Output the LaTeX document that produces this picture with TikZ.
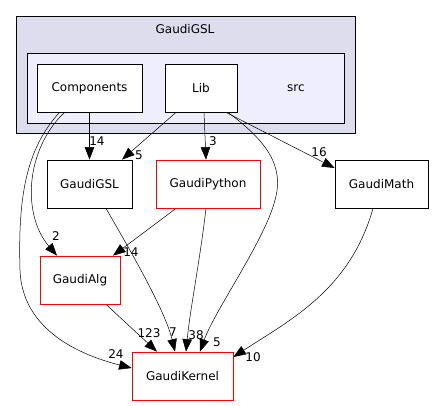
\documentclass[tikz,border=0pt]{standalone}
\usepackage{fontspec}
\setmainfont{DejaVu Sans}
\usetikzlibrary{arrows.meta}
\definecolor{outerfill}{HTML}{DDDDEE}
\definecolor{innerfill}{HTML}{EEEEFF}
\begin{document}
\begin{tikzpicture}[x=1pt,y=-1pt,
  box/.style={draw=black,fill=white,line width=0.8pt,inner sep=0pt,font=\fontsize{12}{14}\selectfont},
  redbox/.style={box,draw=red},
  lbl/.style={font=\fontsize{12}{14}\selectfont,inner sep=0pt},
  dep/.style={draw=black,line width=0.5pt,-{Triangle[length=12.5pt,width=9.5pt]}}]
\useasboundingbox (0,0) rectangle (433,405);
% clusters
\node[draw=black,fill=outerfill,line width=0.8pt,minimum width=339pt,minimum height=117pt,inner sep=0pt] (outer) at (185.5,74.5) {};
\node[lbl] (outerlbl) at (185,29) {GaudiGSL};
\node[draw=black,fill=innerfill,line width=0.8pt,minimum width=317pt,minimum height=70pt,inner sep=0pt] (inner) at (185.5,88) {};
\node[lbl] (srclbl) at (296,88) {src};
% nodes
\node[box,minimum width=105pt,minimum height=48pt] (comp) at (89.5,88) {Components};
\node[box,minimum width=72pt,minimum height=48pt] (lib) at (201,88) {Lib};
\node[box,minimum width=85pt,minimum height=48pt] (gsl) at (89.5,184) {GaudiGSL};
\node[redbox,minimum width=104pt,minimum height=48pt] (python) at (208,184) {GaudiPython};
\node[box,minimum width=93pt,minimum height=48pt] (math) at (381.5,184) {GaudiMath};
\node[redbox,minimum width=80pt,minimum height=48pt] (alg) at (80,280) {GaudiAlg};
\node[redbox,minimum width=101pt,minimum height=48pt] (kernel) at (182.5,376) {GaudiKernel};
% edges
\draw[dep] (comp.south) -- (gsl.north);
\node[lbl] (l1) at (97,141) {14};
\draw[dep] ([xshift=-25pt]comp.south) .. controls (25,150) and (22,215) .. ([xshift=-23pt]alg.north);
\node[lbl] (l2) at (56,236) {2};
\draw[dep] ([xshift=-30pt]comp.south) .. controls (25,150) and (18,200) .. (20,270) .. controls (22,330) and (80,355) .. ([yshift=8pt]kernel.west);
\node[lbl] (l3) at (116,354) {24};
\draw[dep] ([xshift=-25pt]lib.south) -- ([xshift=32.5pt]gsl.north);
\node[lbl] (l4) at (139,155) {5};
\draw[dep] ([xshift=3pt]lib.south) -- ([xshift=-2pt]python.north);
\node[lbl] (l5) at (213,141) {3};
\draw[dep] ([xshift=25pt]lib.south) -- ([yshift=16pt]math.west);
\node[lbl] (l6) at (319,152) {16};
\draw[dep] ([xshift=27pt]lib.south) .. controls (265,140) and (285,165) .. (275,200) .. controls (265,240) and (215,310) .. ([xshift=17.5pt]kernel.north);
\node[lbl] (l7) at (217,342) {5};
\draw[dep] ([xshift=16.5pt]gsl.south) .. controls (130,250) and (165,310) .. ([xshift=-7.5pt]kernel.north);
\node[lbl] (l8) at (173,332) {7};
\draw[dep] ([xshift=-32pt]python.south) -- ([xshift=33pt]alg.north);
\node[lbl] (l9) at (131,252) {14};
\draw[dep] ([xshift=-2pt]python.south) .. controls (200,260) and (190,310) .. ([xshift=3.5pt]kernel.north);
\node[lbl] (l10) at (196,335) {38};
\draw[dep] ([xshift=26pt]alg.south) -- ([xshift=-25.5pt]kernel.north);
\node[lbl] (l11) at (149,333) {123};
\draw[dep] ([xshift=-8.5pt]math.south) .. controls (350,290) and (290,320) .. ([yshift=19pt]kernel.east);
\node[lbl] (l12) at (253,357) {10};
\end{tikzpicture}
\end{document}
